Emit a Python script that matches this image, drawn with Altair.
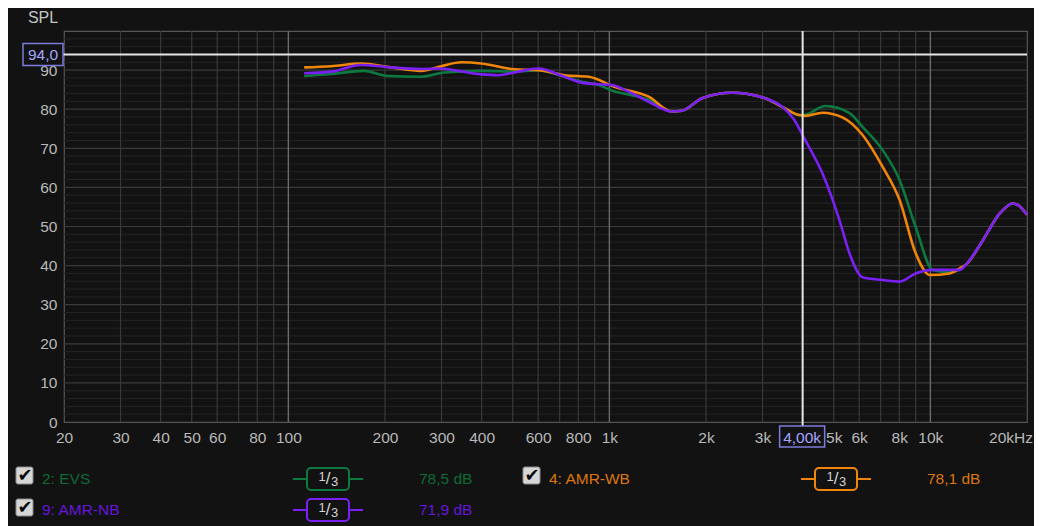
import altair as alt
import pandas as pd

# ---------------- data ----------------
evs_hz = [112, 136, 172, 204, 259, 306, 399, 506, 601, 724, 820, 926, 1040, 1173, 1326, 1566, 1682,
          1944, 2410, 3058, 3456, 3900, 4076, 4710, 5600, 6147, 7096, 8018, 8997, 10172, 11488,
          12352, 12890, 14576, 16472, 18078, 19013, 20000]
evs_db = [88.5, 89.0, 89.8, 88.5, 88.3, 89.4, 89.8, 89.6, 90.0, 88.3, 87.0, 86.2, 84.5, 83.6, 82.4,
          79.4, 79.6, 82.8, 84.2, 82.8, 80.6, 78.5, 78.6, 80.8, 79.0, 75.5, 69.6, 61.9, 49.9, 38.9,
          38.3, 39.0, 40.2, 46.5, 53.4, 55.9, 55.1, 53.0]

wb_hz = [112, 136, 168, 209, 259, 299, 346, 399, 506, 601, 724, 862, 1040, 1326, 1566, 1682, 1944,
         2410, 3058, 3456, 3900, 4076, 4610, 5321, 6147, 7096, 8018, 8997, 9952, 11488, 12352, 12890,
         14576, 16472, 18078, 19013, 20000]
wb_db = [90.7, 91.0, 91.7, 90.7, 89.8, 91.0, 92.0, 91.7, 90.2, 90.0, 88.7, 88.3, 85.7, 83.2, 79.4,
         79.6, 82.8, 84.2, 82.8, 80.6, 78.5, 78.3, 79.1, 77.9, 73.4, 65.3, 56.8, 43.2, 37.6, 38.0,
         39.3, 40.2, 46.5, 53.4, 55.9, 55.1, 53.0]

nb_hz = [112, 136, 168, 209, 259, 293, 399, 451, 506, 601, 724, 820, 926, 1017, 1173, 1326, 1566,
         1682, 1944, 2410, 3058, 3456, 3750, 4076, 4610, 5206, 5600, 6147, 7096, 8018, 8997, 10172,
         12352, 12890, 14576, 16472, 18078, 19013, 20000]
nb_db = [89.2, 89.6, 91.3, 90.7, 90.3, 90.4, 88.9, 88.7, 89.4, 90.4, 88.3, 86.8, 86.4, 86.2, 84.1,
         81.9, 79.4, 79.6, 82.8, 84.2, 82.8, 80.6, 77.5, 72.1, 63.6, 51.7, 43.1, 37.0, 36.3, 35.9,
         38.0, 38.9, 38.9, 40.2, 46.5, 53.4, 55.9, 55.1, 53.0]

series_names = ["2: EVS", "4: AMR-WB", "9: AMR-NB"]
series_levels = ["78,5 dB", "78,1 dB", "71,9 dB"]
smoothing_parts = ["1", "/", "3"]

x_tick_values = [20, 30, 40, 50, 60, 80, 100, 200, 300, 400, 600, 800, 1000, 2000, 3000, 5000,
                 6000, 8000, 10000]
x_last_tick = [20000]
x_last_label = ["20kHz"]
y_tick_values = [0, 10, 20, 30, 40, 50, 60, 70, 80, 90]
grid_minor_hz = [30, 40, 50, 60, 70, 80, 90, 200, 300, 400, 500, 600, 700, 800, 900,
                 2000, 3000, 4000, 5000, 6000, 7000, 8000, 9000]
grid_major_hz = [100, 1000, 10000]
grid_minor_db = [2, 4, 6, 8, 12, 14, 16, 18, 22, 24, 26, 28, 32, 34, 36, 38, 42, 44, 46, 48,
                 52, 54, 56, 58, 62, 64, 66, 68, 72, 74, 76, 78, 82, 84, 86, 88, 92, 94, 96, 98]
grid_major_db = [10, 20, 30, 40, 50, 60, 70, 80, 90]

cursor_db = [94.0]
cursor_db_label = ["94,0"]
cursor_hz = [4000]
cursor_hz_label = ["4,00k"]
y_title = ["SPL"]

# ---------------- styling ----------------
BG = "#121212"
GREEN = "#0c7a40"
ORANGE = "#f0850c"
PURPLE = "#7a20f5"
GREEN_T = "#0d6b36"
ORANGE_T = "#dc7610"
PURPLE_T = "#6616dc"
LABEL = "#b9b9b9"
FONT = "Liberation Sans"
FS = 15.5
W, H = 963, 391

xs = alt.Scale(type="log", domain=[20, 20000], nice=False)
ys = alt.Scale(domain=[0, 100], nice=False, zero=False)

x_axis = alt.Axis(
    values=x_tick_values, title=None, grid=False, ticks=False, domain=False,
    labelExpr="datum.value >= 1000 ? (datum.value/1000) + 'k' : '' + datum.value",
    labelColor=LABEL, labelFont=FONT, labelFontSize=FS, labelPadding=8,
    labelOverlap=False, labelFlush=False, labelBound=False)
y_axis = alt.Axis(
    values=y_tick_values, title=None, grid=False, ticks=False, domain=False,
    labelColor=LABEL, labelFont=FONT, labelFontSize=FS, labelPadding=7,
    labelOverlap=False, labelFlush=False, labelBound=False)


def X(field="hz"):
    return alt.X(f"{field}:Q", scale=xs, axis=x_axis)


def Y(field="db"):
    return alt.Y(f"{field}:Q", scale=ys, axis=y_axis)


def df(**kw):
    return pd.DataFrame(kw)


# grid lines
g_minor_db = alt.Chart(df(db=grid_minor_db)).mark_rule(color="#242424", strokeWidth=1).encode(y=Y())
g_major_db = alt.Chart(df(db=grid_major_db)).mark_rule(color="#3a3a3a", strokeWidth=1.2).encode(y=Y())
g_minor_hz = alt.Chart(df(hz=grid_minor_hz)).mark_rule(color="#393939", strokeWidth=1.2).encode(x=X())
g_major_hz = alt.Chart(df(hz=grid_major_hz)).mark_rule(color="#6a6a6a", strokeWidth=1.4).encode(x=X())

spl = alt.Chart(df(t=y_title)).mark_text(
    color="#c4c4c4", font=FONT, fontSize=16, align="center", baseline="middle").encode(
    x=alt.value(-21), y=alt.value(-13.5), text="t:N")

last_label = alt.Chart(df(hz=x_last_tick, t=x_last_label)).mark_text(
    color=LABEL, font=FONT, fontSize=FS, align="right", baseline="middle", dx=6).encode(
    x=X(), y=alt.value(406.5), text="t:N")


def curve(hz, db, color):
    return alt.Chart(df(hz=hz, db=db)).mark_line(
        color=color, strokeWidth=2.6, interpolate="monotone").encode(
        x=X(), y=Y(), order="hz:Q")


c_evs = curve(evs_hz, evs_db, GREEN)
c_wb = curve(wb_hz, wb_db, ORANGE)
c_nb = curve(nb_hz, nb_db, PURPLE)

# cursors
h_cursor = alt.Chart(df(db=cursor_db)).mark_rule(color="#e6e6e6", strokeWidth=2).encode(
    y=Y(), x=alt.value(-1), x2=alt.value(W))
h_box = alt.Chart(df(db=cursor_db)).mark_rect(
    fill=BG, stroke="#7c7cdc", strokeWidth=1.5, yOffset=-11, y2Offset=11).encode(
    y=Y(), y2="db:Q", x=alt.value(-41), x2=alt.value(-1))
h_text = alt.Chart(df(db=cursor_db, t=cursor_db_label)).mark_text(
    color="#a6a6ff", font=FONT, fontSize=FS, align="center", baseline="middle", dy=1).encode(
    y=Y(), x=alt.value(-21), text="t:N")

v_cursor = alt.Chart(df(hz=cursor_hz)).mark_rule(color="#e6e6e6", strokeWidth=2).encode(
    x=X(), y=alt.value(0), y2=alt.value(395))
v_box = alt.Chart(df(hz=cursor_hz)).mark_rect(
    fill=BG, stroke="#7c7cdc", strokeWidth=1.5, xOffset=-23, x2Offset=22).encode(
    x=X(), x2="hz:Q", y=alt.value(395), y2=alt.value(416))
v_text = alt.Chart(df(hz=cursor_hz, t=cursor_hz_label)).mark_text(
    color="#a6a6ff", font=FONT, fontSize=FS, align="center", baseline="middle", dx=-0.5, dy=1).encode(
    x=X(), y=alt.value(405.5), text="t:N")


# legend
def txt(s, x, y, color, size=FS, align="left", font=FONT, weight="normal"):
    return alt.Chart(df(t=[s])).mark_text(
        color=color, font=font, fontSize=size, align=align, baseline="middle", fontWeight=weight).encode(
        x=alt.value(x), y=alt.value(y), text="t:N")


def legend_item(name, level, lcolor, tcolor, cb_x, text_x, line_x, box_x, level_x, yc, cb_y, box_y):
    layers = []
    layers.append(alt.Chart(df(t=[0])).mark_rect(
        fill="#d6d6d6", stroke="#8a8a8a", strokeWidth=1, cornerRadius=2).encode(
        x=alt.value(cb_x), x2=alt.value(cb_x + 17), y=alt.value(cb_y), y2=alt.value(cb_y + 17)))
    layers.append(txt("✔", cb_x + 9, cb_y + 9, "#0a0a0a", size=18, align="center", font="DejaVu Sans"))
    layers.append(txt(name, text_x, yc, tcolor))
    layers.append(alt.Chart(df(t=[0])).mark_rule(color=lcolor, strokeWidth=2).encode(
        x=alt.value(line_x), x2=alt.value(line_x + 70), y=alt.value(box_y + 11)))
    layers.append(alt.Chart(df(t=[0])).mark_rect(
        fill=BG, stroke=lcolor, strokeWidth=2, cornerRadius=4).encode(
        x=alt.value(box_x), x2=alt.value(box_x + 42), y=alt.value(box_y), y2=alt.value(box_y + 22)))
    cx, cy = box_x + 21, box_y + 11
    layers.append(txt(smoothing_parts[0], cx - 6, cy - 2.5, "#d4d4d4", size=13, align="center"))
    layers.append(txt(smoothing_parts[1], cx, cy, "#d4d4d4", size=17, align="center"))
    layers.append(txt(smoothing_parts[2], cx + 6.5, cy + 3, "#d4d4d4", size=13, align="center"))
    layers.append(txt(level, level_x, yc, tcolor))
    return layers


legend = []
legend += legend_item(series_names[0], series_levels[0], GREEN, GREEN_T,
                      -48, -22, 229, 243, 355, 447.5, 436, 437)
legend += legend_item(series_names[1], series_levels[1], ORANGE, ORANGE_T,
                      459, 485, 737, 751, 863, 447.5, 436, 437)
legend += legend_item(series_names[2], series_levels[2], PURPLE, PURPLE_T,
                      -48, -22, 229, 243, 355, 479, 468, 468)

chart = alt.layer(
    g_minor_db, g_major_db, g_minor_hz, g_major_hz, spl, last_label,
    c_evs, c_wb, c_nb,
    h_cursor, v_cursor, h_box, h_text, v_box, v_text,
    *legend,
).properties(
    width=W, height=H,
    padding={"left": 56, "top": 23, "right": 7, "bottom": 104},
    autosize=alt.AutoSizeParams(type="none"),
    background=BG,
).configure_view(stroke="#565656", strokeWidth=1.2, fill=BG)

chart.save("out.html", embed_options={"renderer": "svg", "actions": False})
